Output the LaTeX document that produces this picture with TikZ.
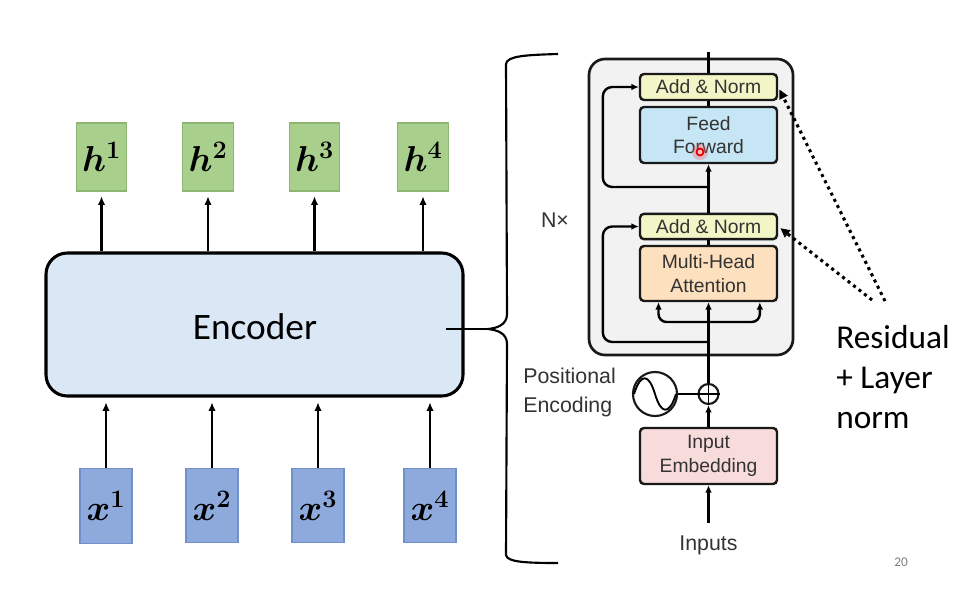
\RequirePackage{fix-cm}
\documentclass[tikz,border=0pt]{standalone}
\usepackage{amsmath}
\usepackage{fontspec}
\setmainfont{Carlito}
\newfontfamily\hel{Liberation Sans}
\usetikzlibrary{arrows.meta,calc}
\definecolor{hfill}{HTML}{A8CF8C}
\definecolor{hborder}{HTML}{8DB673}
\definecolor{xfill}{HTML}{8EA9DB}
\definecolor{xborder}{HTML}{7090CC}
\definecolor{encfill}{HTML}{DAE8F5}
\definecolor{grayfill}{HTML}{F2F2F2}
\definecolor{anfill}{HTML}{F2F5C5}
\definecolor{fffill}{HTML}{C6E6F5}
\definecolor{mhafill}{HTML}{FDE0BE}
\definecolor{iefill}{HTML}{F8DCDB}
\definecolor{tgray}{HTML}{333333}
\tikzset{
  hbox/.style={draw=hborder, fill=hfill, line width=0.8pt, minimum width=38pt, minimum height=51pt, inner sep=0pt, font=\fontsize{27}{30}\selectfont},
  xbox/.style={draw=xborder, fill=xfill, line width=0.8pt, minimum width=39pt, minimum height=56pt, inner sep=0pt, font=\fontsize{27}{30}\selectfont},
  tbox/.style={draw=black!90, line width=1.8pt, rounded corners=3pt, minimum width=102.75pt, inner sep=0pt, font=\hel\fontsize{14.5}{17.5}\selectfont, text=tgray, align=center},
  arr/.style={line width=2.1pt, -{Latex[length=6.5pt,width=5.5pt]}},
  tarr/.style={line width=1.8pt, -{Latex[length=5.5pt,width=5pt]}},
  tline/.style={line width=1.8pt},
  dotarr/.style={line width=2.3pt, dash pattern=on 2.3pt off 2.9pt, -{Triangle[length=7pt,width=6.5pt]}},
  tlabel/.style={font=\hel\fontsize{16}{21.75}\selectfont, text=tgray, inner sep=0pt},
}
\begin{document}
\begin{tikzpicture}[x=0.75pt,y=-0.75pt]
\useasboundingbox[fill=white] (0,0) rectangle (977,589);

% ---------- left side ----------
\node[draw=black, line width=2.3pt, fill=encfill, rounded corners=16pt, minimum width=312.75pt, minimum height=107.25pt, font=\fontsize{28}{32}\selectfont] (enc) at (254.5,324.5) {};
\node[font=\fontsize{28}{32}\selectfont, inner sep=0pt] (enctext) at (255,327) {Encoder};

\node[hbox] (h1) at (101.5,157) {$\boldsymbol{h^{1}}$};
\node[hbox] (h2) at (208,157) {$\boldsymbol{h^{2}}$};
\node[hbox] (h3) at (314.5,157) {$\boldsymbol{h^{3}}$};
\node[hbox] (h4) at (423,157) {$\boldsymbol{h^{4}}$};

\node[xbox] (x1) at (106,506) {$\boldsymbol{x^{1}}$};
\node[xbox] (x2) at (212,505.5) {$\boldsymbol{x^{2}}$};
\node[xbox] (x3) at (318,505.5) {$\boldsymbol{x^{3}}$};
\node[xbox] (x4) at (430,505.5) {$\boldsymbol{x^{4}}$};

\foreach \i in {1,2,3,4}{
  \draw[arr, shorten >=3.5pt] (enc.north -| h\i.south) -- (h\i.south);
  \draw[arr, shorten >=3.5pt] (x\i.north) -- (enc.south -| x\i.north);
}

% brace
\coordinate (cusp) at (488,329);
\draw[line width=1.6pt] (558,54) .. controls (525,55) and (507,56) .. (506,64)
  -- (507,314) .. controls (507,325) and (497,328) .. (cusp)
  .. controls (497,330) and (507,333) .. (507,344)
  -- (506,555) .. controls (507,562) and (525,563) .. (558,563);
\draw[line width=1.8pt] ([xshift=-14.25pt]enc.east |- cusp) -- (cusp);

% ---------- transformer encoder ----------
\node[draw=black!90, line width=2pt, fill=grayfill, rounded corners=12pt, minimum width=153pt, minimum height=222pt] (layer) at (691,207) {};

\node[tbox, fill=anfill, minimum height=19.5pt] (an2) at (708.5,87) {Add \& Norm};
\node[tbox, fill=fffill, minimum height=42pt] (ff) at (708.5,135) {Feed\\Forward};
\node[tbox, fill=anfill, minimum height=19pt] (an1) at (708.5,226.5) {Add \& Norm};
\node[tbox, fill=mhafill, minimum height=41.25pt] (mha) at (708.5,273.5) {Multi-Head\\Attention};
\node[tbox, fill=iefill, minimum height=42pt] (ie) at (708.5,456) {Input\\Embedding};

\node[draw=black!90, line width=1.6pt, circle, minimum size=15pt, inner sep=0pt] (plus) at (708.5,394) {};
\draw[line width=1.4pt] (plus.north) -- (plus.south) (plus.west) -- (plus.east);
\node[draw=black!90, line width=1.6pt, circle, minimum size=33pt, inner sep=0pt] (sine) at (655,394) {};
\draw[line width=1.4pt] ($(sine.center)+(-21,0)$) .. controls ($(sine.center)+(-14,-22)$) and ($(sine.center)+(-6,-20)$) .. (sine.center)
  .. controls ($(sine.center)+(6,20)$) and ($(sine.center)+(14,22)$) .. ($(sine.center)+(21,0)$);

\node[tlabel] (inputs) at (708.5,545) {Inputs};
\node[tlabel, align=left, anchor=west] (pe) at (523,392.5) {Positional\\Encoding};
\node[tlabel] (nx) at (555,220) {N×};

\coordinate (inbot) at (708.5,523);
\coordinate (top) at (708.5,52);
\coordinate (r1) at (708.5,342);
\coordinate (b3) at (708.5,322);
\coordinate (r2) at (708.5,187);

\draw[tarr] (inbot) -- (ie.south);
\draw[tarr] (ie.north) -- (plus.south);
\draw[tline] (sine.east) -- (plus.west);
\draw[tarr] (plus.north) -- (mha.south);
\draw[tline] (mha.north) -- (an1.south);
\draw[tarr] (an1.north) -- (ff.south);
\draw[tline] (ff.north) -- (an2.south);
\draw[tline] (an2.north) -- (top);

\draw[tarr, rounded corners=7pt] (r1) -| ([xshift=-27pt]an1.west) -- (an1.west);
\draw[tarr, rounded corners=7pt] (r2) -| ([xshift=-27pt]an2.west) -- (an2.west);
\draw[tarr, rounded corners=6pt] (b3) -| ([xshift=-37.5pt]mha.south);
\draw[tarr, rounded corners=6pt] (b3) -| ([xshift=38.5pt]mha.south);

% red pointer dot
\fill[red!60, opacity=0.35] (700,152) circle (6pt);
\draw[red!90!black, line width=1.3pt, fill=red!25] (700,152) circle (2.6pt);

% ---------- annotations ----------
\coordinate (d1) at (885,301);
\coordinate (d2) at (872,300);
\draw[dotarr, shorten >=2pt] (d1) -- (an2.east);
\draw[dotarr, shorten >=2pt] (d2) -- (an1.east);

\node[font=\fontsize{25}{30}\selectfont, align=left, anchor=west, inner sep=0pt] (res) at (836,377) {Residual\\+ Layer\\norm};

\node[font=\fontsize{10}{12}\selectfont, text=black!50, inner sep=0pt] (pg) at (901,562) {20};
\end{tikzpicture}
\end{document}
